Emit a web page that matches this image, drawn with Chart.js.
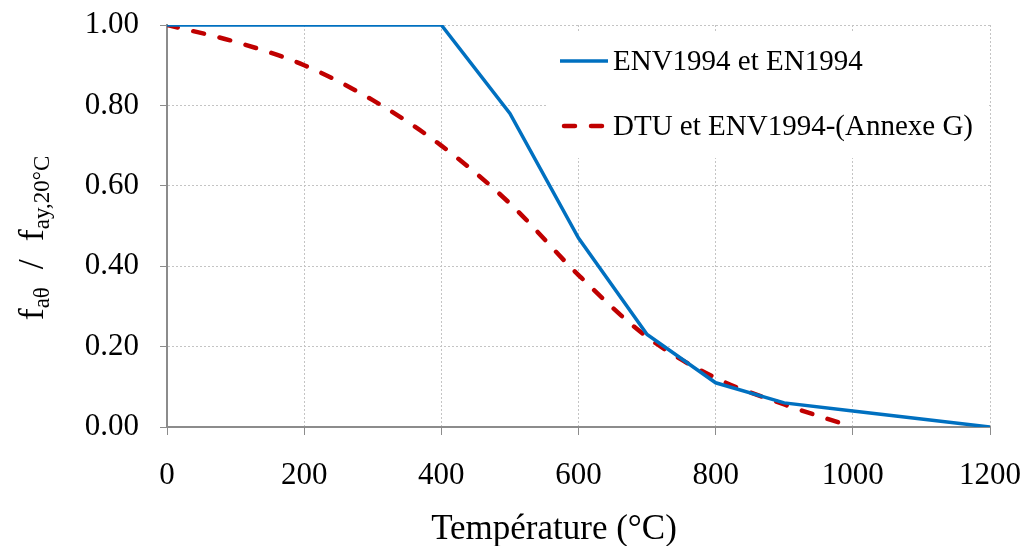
<!DOCTYPE html>
<html>
<head>
<meta charset="utf-8">
<script src="https://cdn.jsdelivr.net/npm/chart.js@4"></script>
<style>
  html, body { margin: 0; padding: 0; background: #fff; }
  #wrap { width: 1028px; height: 546px; }
</style>
</head>
<body>
<div id="wrap"><canvas id="chartFy"></canvas></div>
<script>
/* Réduction de la limite d'élasticité de l'acier avec la température */

const FONT = "'Liberation Serif', 'Times New Roman', serif";

// ENV1994 / EN1994 (courbe par paliers)
const envTemps  = [0, 100, 200, 300, 400, 500, 600, 700, 800, 900, 1000, 1100, 1200];
const envValues = [1.00, 1.00, 1.00, 1.00, 1.00, 0.78, 0.47, 0.23, 0.11, 0.06, 0.04, 0.02, 0.00];

// DTU et ENV1994 - Annexe G (courbe lissée)
const dtuTemps  = [0, 100, 200, 300, 400, 500, 600, 700, 800, 900, 1000];
const dtuValues = [1.00, 0.958, 0.90, 0.813, 0.70, 0.556, 0.378, 0.224, 0.122, 0.056, 0.00];

const seriesLabels = ["ENV1994 et EN1994", "DTU et ENV1994-(Annexe G)"];
const xMax = 1200, xStep = 200;
const yMax = 1.0, yStep = 0.2;

const BLUE = "#0070C0";
const RED  = "#C00000";
const AXIS = "#8c8c8c";
const GRID = "#c4c4c4";

const toPoints = (xs, ys) => xs.map((x, i) => ({ x, y: ys[i] }));

// Légende dans la zone de tracé + titres des axes (avec indices)
const decorPlugin = {
  id: "decor",
  beforeDatasetsDraw(chart) {
    const { ctx } = chart;
    ctx.save();
    ctx.fillStyle = "#fff";
    ctx.fillRect(547, 31, 442, 127);

    const rows = [
      { y: 61, color: BLUE, width: 3.5, dash: [] },
      { y: 126, color: RED, width: 4.5, dash: [11, 16] },
    ];
    rows.forEach((r, i) => {
      ctx.strokeStyle = r.color;
      ctx.lineWidth = r.width;
      ctx.lineCap = i === 0 ? "butt" : "round";
      ctx.setLineDash(r.dash);
      ctx.beginPath();
      ctx.moveTo(i === 0 ? 560 : 564, r.y);
      ctx.lineTo(608, r.y);
      ctx.stroke();
      ctx.setLineDash([]);
      ctx.fillStyle = "#000";
      ctx.font = `29px ${FONT}`;
      ctx.textAlign = "left";
      ctx.textBaseline = "middle";
      ctx.fillText(seriesLabels[i], 613, r.y + 1);
    });
    ctx.restore();
  },
  afterDraw(chart) {
    const { ctx } = chart;
    ctx.save();
    ctx.fillStyle = "#000";

    // titre de l'axe X
    ctx.font = `35px ${FONT}`;
    ctx.textAlign = "center";
    ctx.textBaseline = "alphabetic";
    ctx.fillText("Température (°C)", 554, 539);

    // titre de l'axe Y : f_aθ / f_ay,20°C
    const parts = [
      { t: "f", sub: false },
      { t: "aθ", sub: true },
      { t: "  /  ", sub: false },
      { t: "f", sub: false },
      { t: "ay,20°C", sub: true },
    ];
    const fontFor = (p) => p.sub ? `23px ${FONT}` : `36px ${FONT}`;
    let total = 0;
    parts.forEach((p) => { ctx.font = fontFor(p); total += ctx.measureText(p.t).width; });
    ctx.translate(43, 238);
    ctx.rotate(-Math.PI / 2);
    ctx.textAlign = "left";
    let x = -total / 2;
    parts.forEach((p) => {
      ctx.font = fontFor(p);
      ctx.fillText(p.t, x, p.sub ? 6 : 0);
      x += ctx.measureText(p.t).width;
    });
    ctx.restore();
  },
};

new Chart(document.getElementById("chartFy"), {
  type: "line",
  data: {
    datasets: [
      {
        label: seriesLabels[0],
        data: toPoints(envTemps, envValues),
        borderColor: BLUE,
        backgroundColor: BLUE,
        borderWidth: 3.5,
        pointRadius: 0,
        tension: 0,
      },
      {
        label: seriesLabels[1],
        data: toPoints(dtuTemps, dtuValues),
        borderColor: RED,
        backgroundColor: RED,
        borderWidth: 4.5,
        borderDash: [11, 16],
        borderCapStyle: "round",
        pointRadius: 0,
        cubicInterpolationMode: "monotone",
      },
    ],
  },
  options: {
    responsive: true,
    maintainAspectRatio: false,
    animation: false,
    layout: { padding: { top: 25, right: 38, left: 0, bottom: 0 } },
    plugins: {
      legend: { display: false },
      tooltip: { enabled: false },
    },
    scales: {
      x: {
        type: "linear",
        min: 0,
        max: xMax,
        afterFit: (s) => { s.height = 119; s.paddingLeft = 0; s.paddingRight = 0; },
        ticks: {
          stepSize: xStep,
          color: "#000",
          font: { family: FONT, size: 31 },
          padding: 22,
          maxRotation: 0,
          callback: (v) => String(v),
        },
        grid: {
          color: GRID,
          tickColor: AXIS,
          tickLength: 8,
          tickBorderDash: [],
        },
        border: { color: AXIS, width: 2, dash: [2, 2] },
      },
      y: {
        min: 0,
        max: yMax,
        afterFit: (s) => { s.width = 167; s.paddingTop = 0; s.paddingBottom = 0; },
        ticks: {
          stepSize: yStep,
          color: "#000",
          font: { family: FONT, size: 31 },
          padding: 21,
          callback: (v) => Number(v).toFixed(2),
        },
        grid: {
          color: GRID,
          tickColor: AXIS,
          tickLength: 7,
          tickBorderDash: [],
        },
        border: { color: AXIS, width: 2, dash: [2, 2] },
      },
    },
  },
  plugins: [decorPlugin],
});
</script>
</body>
</html>
